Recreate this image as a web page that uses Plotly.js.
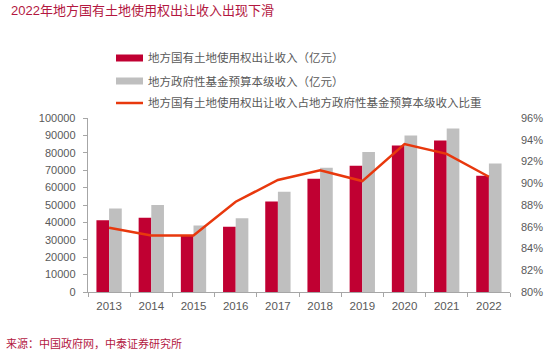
<!DOCTYPE html>
<html>
<head>
<meta charset="utf-8">
<script src="https://cdn.plot.ly/plotly-3.0.1.min.js"></script>
<style>html,body{margin:0;padding:0;background:#fff;}#chart{width:550px;height:352px;}</style>
</head>
<body>
<div id="chart"></div>
<script>
// ---- data ----
const years = ["2013","2014","2015","2016","2017","2018","2019","2020","2021","2022"];
const landRevenue = [41250, 42606, 32547, 37457, 52059, 65096, 72584, 84142, 87051, 66854];
const fundRevenue = [48020, 49997, 38218, 42441, 57637, 71372, 80476, 89927, 93936, 73800];
const landShare = [85.9, 85.2, 85.2, 88.3, 90.3, 91.2, 90.2, 93.6, 92.7, 90.6];
const leftTicks = [0,10000,20000,30000,40000,50000,60000,70000,80000,90000,100000];
const rightTicks = [80,82,84,86,88,90,92,94,96];
const seriesNames = [
  "地方国有土地使用权出让收入（亿元）",
  "地方政府性基金预算本级收入（亿元）",
  "地方国有土地使用权出让收入占地方政府性基金预算本级收入比重"
];
const titleText = "2022年地方国有土地使用权出让收入出现下滑";
const sourceText = "来源：中国政府网，中泰证券研究所";

// ---- styling ----
const RED = "#c00032", GREY = "#bfbfbf", LINE = "#e8380d", TXT = "#595959", ACCENT = "#b3173f";
const FONT = "Liberation Sans, Arial, Noto Sans CJK SC, sans-serif";
const W = 550, H = 352, M = {l: 88, r: 40, t: 118, b: 60};
const PW = W - M.l - M.r, PH = H - M.t - M.b;
const px = x => (x - M.l) / PW;
const py = y => (H - M.b - y) / PH;

const traces = [
  {type: "bar", x: years, y: landRevenue, name: seriesNames[0], marker: {color: RED}, showlegend: false, hoverinfo: "x+y"},
  {type: "bar", x: years, y: fundRevenue, name: seriesNames[1], marker: {color: GREY}, showlegend: false, hoverinfo: "x+y"},
  {type: "scatter", mode: "lines", x: years, y: landShare, name: seriesNames[2], yaxis: "y2",
   line: {color: LINE, width: 2.5}, showlegend: false}
];

const legendRows = [58, 81, 103];
const shapes = [
  {type: "rect", xref: "paper", yref: "paper", x0: px(116), x1: px(143), y0: py(legendRows[0] - 3.5), y1: py(legendRows[0] + 3.5), fillcolor: RED, line: {width: 0}},
  {type: "rect", xref: "paper", yref: "paper", x0: px(116), x1: px(143), y0: py(legendRows[1] - 3.5), y1: py(legendRows[1] + 3.5), fillcolor: GREY, line: {width: 0}},
  {type: "line", xref: "paper", yref: "paper", x0: px(116), x1: px(143), y0: py(legendRows[2]), y1: py(legendRows[2]), line: {color: LINE, width: 2.5}}
];
const annotations = seriesNames.map((t, i) => ({
  text: t, xref: "paper", yref: "paper", x: px(146), y: py(legendRows[i]),
  xanchor: "left", yanchor: "middle", showarrow: false, font: {size: 11.5, color: TXT, family: FONT}
}));
annotations.push({text: titleText, xref: "paper", yref: "paper", x: px(9), y: py(11),
  xanchor: "left", yanchor: "middle", showarrow: false, font: {size: 13, color: ACCENT, family: FONT}});
annotations.push({text: sourceText, xref: "paper", yref: "paper", x: px(4), y: py(343),
  xanchor: "left", yanchor: "middle", showarrow: false, font: {size: 11, color: ACCENT, family: FONT}});

const layout = {
  width: W, height: H, margin: M,
  paper_bgcolor: "#fff", plot_bgcolor: "#fff",
  font: {family: FONT, size: 11, color: TXT},
  barmode: "group", bargap: 0.4, bargroupgap: 0,
  showlegend: false,
  xaxis: {type: "category", showline: true, linecolor: "#a6a6a6", linewidth: 1.3,
          ticks: "outside", tickson: "boundaries", ticklen: 4, tickcolor: "#a6a6a6",
          ticklabelstandoff: 3,
          tickfont: {size: 11.5, color: TXT}, showgrid: false, zeroline: false},
  yaxis: {range: [0, 100000], tickvals: leftTicks, ticktext: leftTicks.map(String),
          showline: true, linecolor: "#a6a6a6", linewidth: 1.3, ticks: "outside", ticklen: 4,
          ticklabelstandoff: 5,
          tickcolor: "#a6a6a6", showgrid: false, zeroline: false, tickfont: {size: 11, color: TXT}},
  yaxis2: {overlaying: "y", side: "right", range: [80, 96], tickvals: rightTicks,
           ticktext: rightTicks.map(v => v + "%"), showline: false, ticks: "", showgrid: false,
           zeroline: false, tickfont: {size: 11, color: TXT}, ticklabelstandoff: 10},
  shapes: shapes, annotations: annotations
};

Plotly.newPlot("chart", traces, layout, {staticPlot: true, displayModeBar: false});
</script>
</body>
</html>
